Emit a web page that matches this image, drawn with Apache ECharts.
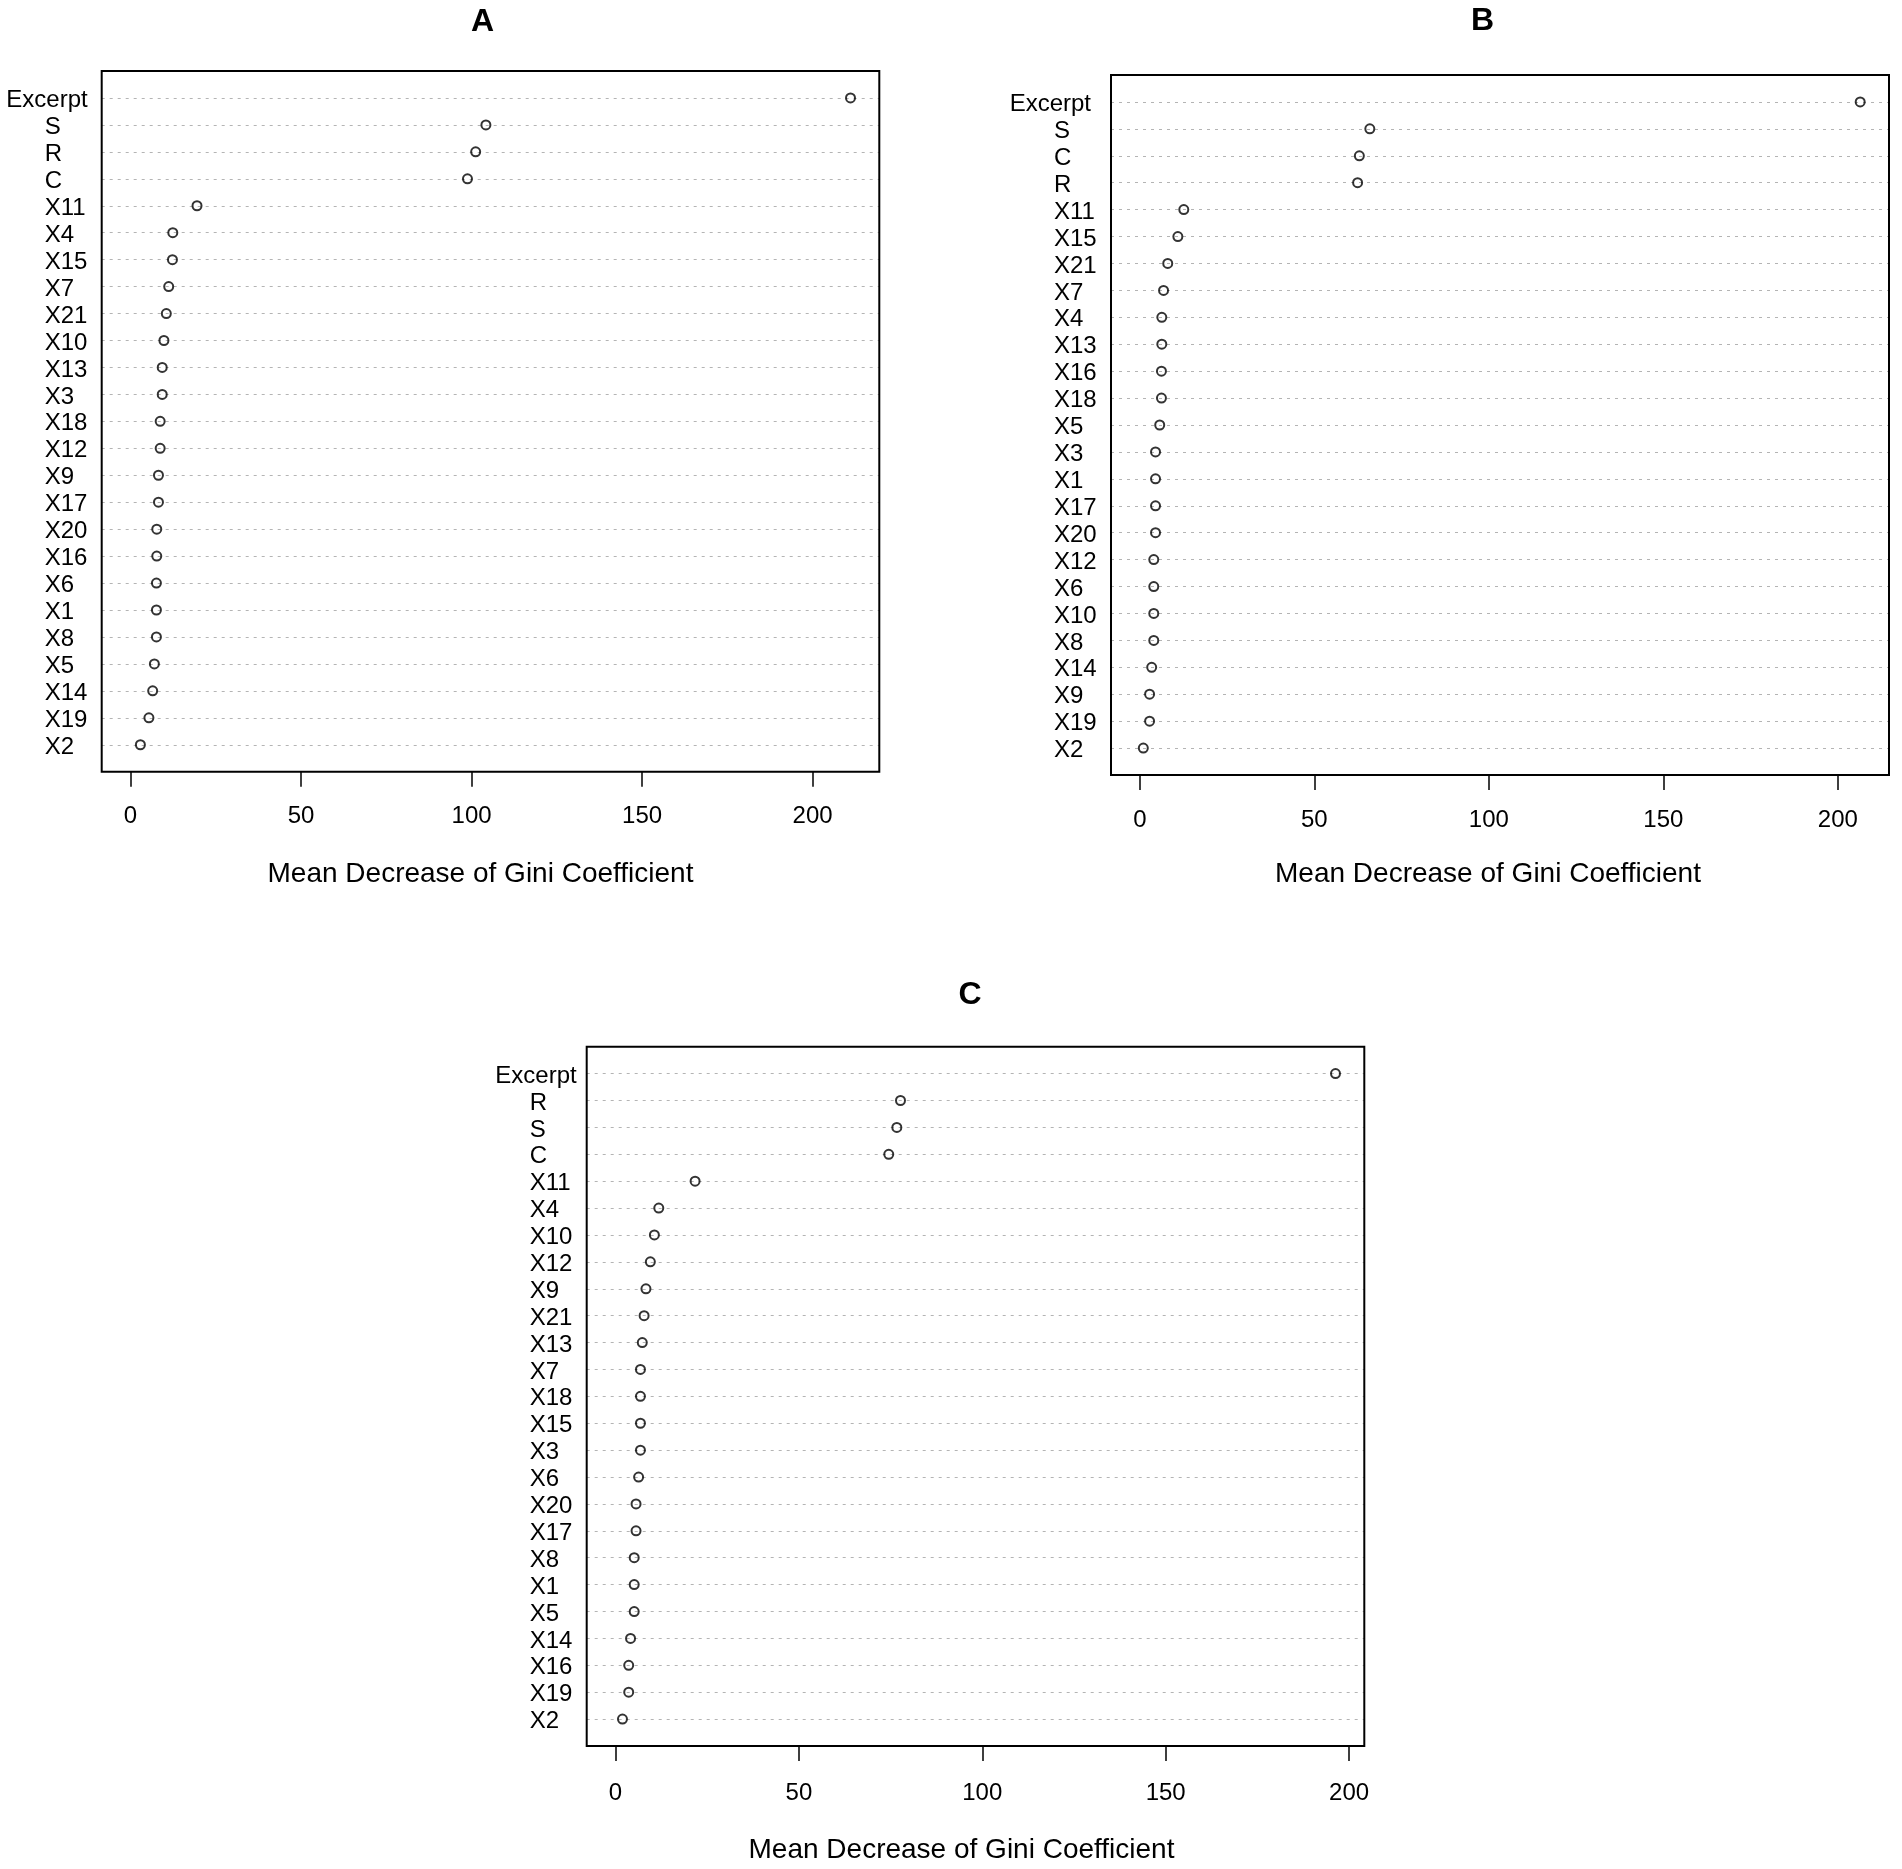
<!DOCTYPE html>
<html><head><meta charset="utf-8">
<script src="https://cdn.jsdelivr.net/npm/echarts@6/dist/echarts.min.js"></script>
<style>html,body{margin:0;padding:0;background:#fff}#c{width:1902px;height:1869px}</style>
</head><body><div id="c"></div>
<script>
// ---- data ----
const catsA = ['Excerpt','S','R','C','X11','X4','X15','X7','X21','X10','X13','X3','X18','X12','X9','X17','X20','X16','X6','X1','X8','X5','X14','X19','X2'];
const valsA = [211.1,104.2,101.2,98.8,19.5,12.4,12.3,11.2,10.5,9.8,9.3,9.3,8.7,8.7,8.2,8.2,7.7,7.7,7.6,7.6,7.6,7.0,6.5,5.4,2.9];
const catsB = ['Excerpt','S','C','R','X11','X15','X21','X7','X4','X13','X16','X18','X5','X3','X1','X17','X20','X12','X6','X10','X8','X14','X9','X19','X2'];
const valsB = [206.4,65.9,62.9,62.4,12.6,10.9,8.0,6.8,6.3,6.3,6.2,6.2,5.7,4.5,4.5,4.5,4.5,4.0,4.0,4.0,4.0,3.4,2.8,2.8,1.0];
const catsC = ['Excerpt','R','S','C','X11','X4','X10','X12','X9','X21','X13','X7','X18','X15','X3','X6','X20','X17','X8','X1','X5','X14','X16','X19','X2'];
const valsC = [196.3,77.7,76.7,74.5,21.7,11.8,10.6,9.5,8.3,7.8,7.3,6.8,6.8,6.8,6.8,6.3,5.6,5.6,5.1,5.1,5.1,4.1,3.6,3.6,1.9];
const xTicks = [0, 50, 100, 150, 200];
const panelTitles = ['A', 'B', 'C'];
const xTitle = 'Mean Decrease of Gini Coefficient';

// ---- layout ----
const FF = '"Liberation Sans", Arial, Helvetica, sans-serif';
const layouts = [
  {left:101.7, top:71,     width:777.6, height:700.7, exGap:14, tickGap:33, nameGap:89, nameShift:20, tx:477.5, ty:1},
  {left:1111,  top:75,     width:778,   height:700,   exGap:20, tickGap:33, nameGap:85, nameShift:24, tx:1477.5, ty:0},
  {left:586.7, top:1046.7, width:777.6, height:699.3, exGap:10, tickGap:35, nameGap:90, nameShift:28, tx:965, ty:974}
];
const panels = [[catsA, valsA], [catsB, valsB], [catsC, valsC]];
const X_START = 57;

const option = {
  animation: false,
  backgroundColor: '#fff',
  title: [], grid: [], xAxis: [], yAxis: [], series: []
};

panels.forEach(([cats, vals], i) => {
  const L = layouts[i];
  const M = Math.max.apply(null, vals);
  const rows = cats.map((c, k) => k + 1);
  option.title.push({
    text: panelTitles[i], left: L.tx, top: L.ty, textAlign: 'center',
    textStyle: {fontSize: 32, fontWeight: 'bold', color: '#000', fontFamily: FF}
  });
  option.grid.push({
    left: L.left, top: L.top, width: L.width, height: L.height, z: 5,
    show: true, borderColor: '#000', borderWidth: 2, backgroundColor: 'transparent'
  });
  option.xAxis.push({
    type: 'value', gridIndex: i, position: 'bottom',
    min: -0.04 * M, max: 1.04 * M,
    axisLine: {show: false, onZero: false},
    splitLine: {show: false},
    axisTick: {show: true, customValues: xTicks, length: 15, inside: false,
               lineStyle: {color: '#000', width: 1.5}},
    axisLabel: {show: true, customValues: xTicks, margin: L.tickGap,
                fontSize: 24, color: '#000', fontFamily: FF},
    name: xTitle, nameLocation: 'middle', nameGap: L.nameGap,
    nameTextStyle: {fontSize: 28, color: '#000', fontFamily: FF, padding: [0, L.nameShift, 0, 0]}
  });
  option.yAxis.push({
    type: 'value', gridIndex: i, inverse: true,
    min: 0, max: cats.length + 1, interval: 1,
    axisLine: {show: false, onZero: false},
    axisTick: {show: false, customValues: rows},
    splitLine: {show: true, lineStyle: {color: '#b4b4b4', width: 1, type: [3, 5]}},
    axisLabel: {
      show: true, customValues: rows, margin: L.exGap, align: 'right', fontSize: 24, color: '#000', fontFamily: FF,
      hideOverlap: false, padding: [5, 0, 0, 0],
      formatter: function (v) {
        const name = cats[v - 1];
        if (!name) return '';
        return name === 'Excerpt' ? '{e|' + name + '}' : '{x|' + name + '}';
      },
      rich: {
        e: {fontSize: 24, color: '#000', fontFamily: FF},
        x: {fontSize: 24, color: '#000', fontFamily: FF, width: X_START - L.exGap, align: 'left'}
      }
    }
  });
  option.series.push({
    type: 'scatter', xAxisIndex: i, yAxisIndex: i, silent: true,
    symbol: 'circle', symbolSize: 9,
    itemStyle: {color: 'rgba(255,255,255,0)', borderColor: '#000', borderWidth: 2},
    data: vals.map((v, k) => [v, k + 1])
  });
});

const chart = echarts.init(document.getElementById('c'), null, {renderer: 'canvas'});
chart.setOption(option);
</script></body></html>
